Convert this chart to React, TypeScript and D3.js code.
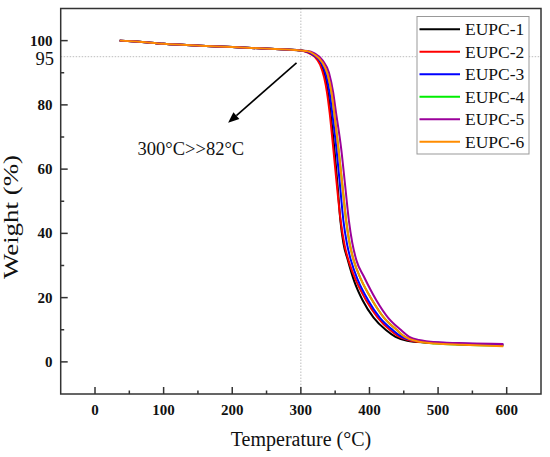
import * as d3 from 'd3';

// shared low-temperature part of every curve (°C, wt %)
const plateauT = [36, 60, 100, 153, 200, 262, 280, 300];
const plateauW = [100, 99.7, 99.0, 98.4, 98.0, 97.4, 97.2, 96.9];

const eupc1T = [310, 320, 329, 335, 340, 344, 349, 353.5, 357.6, 362, 368.6, 378, 390, 406, 424, 438, 455, 485, 525, 595];
const eupc1W = [96.5, 95.3, 93, 89, 83, 76, 66, 55, 44, 37, 31.6, 25, 19.2, 13.8, 9.9, 7.8, 6.6, 6.0, 5.6, 5.3];

const eupc2T = [310, 320, 328, 334, 338, 342, 347, 352, 358, 364, 370, 380, 395, 412, 430, 445, 460, 490, 530, 595];
const eupc2W = [96.3, 95.0, 92.5, 88.5, 84, 77.5, 67, 56, 44, 36, 31.2, 25.5, 19.2, 13.8, 9.9, 7.6, 6.6, 6.0, 5.6, 5.2];

const eupc3T = [310, 320, 330, 337, 342, 346, 352, 357, 362, 367, 373, 383, 398, 415, 434, 448, 463, 490, 530, 595];
const eupc3W = [96.5, 95.3, 93, 89, 83.5, 77, 66, 55, 44, 37, 31.6, 25.5, 19.2, 13.8, 9.9, 7.7, 6.7, 6.1, 5.7, 5.4];

const eupc4T = [310, 320, 331, 339, 345, 349, 355, 360.5, 366, 371, 377, 388, 404, 421, 440, 453, 468, 495, 535, 595];
const eupc4W = [96.7, 95.6, 93.3, 89.5, 83.5, 77, 66, 55, 44, 37, 31.6, 25.5, 19.2, 13.8, 9.9, 7.6, 6.5, 5.7, 5.3, 5.0];

const eupc5T = [310, 320, 332, 341, 347, 351, 359, 364.5, 370, 375, 381, 392, 410, 427, 446, 458, 472, 500, 540, 595];
const eupc5W = [96.8, 96.0, 93.8, 90, 84, 78, 66, 55, 44, 37, 31.6, 26.5, 19.2, 13.8, 9.9, 7.8, 6.8, 6.1, 5.8, 5.6];

const eupc6T = [310, 320, 331, 339, 345, 349, 355, 360.5, 366, 371, 377, 388, 404, 421, 440, 453, 468, 495, 535, 595];
const eupc6W = [96.7, 95.6, 93.3, 89.5, 83.5, 77, 66, 55, 44, 37, 31.6, 25.5, 19.2, 13.8, 9.9, 7.6, 6.5, 5.7, 5.3, 4.9];

const seriesNames = ['EUPC-1', 'EUPC-2', 'EUPC-3', 'EUPC-4', 'EUPC-5', 'EUPC-6'];
const seriesColors = ['#000000', '#ff0000', '#0000ff', '#00ee00', '#9b009b', '#ff8c00'];
const seriesT = [eupc1T, eupc2T, eupc3T, eupc4T, eupc5T, eupc6T];
const seriesW = [eupc1W, eupc2W, eupc3W, eupc4W, eupc5W, eupc6W];

const xTicks = [0, 100, 200, 300, 400, 500, 600];
const xMinor = [50, 150, 250, 350, 450, 550];
const yTicks = [0, 20, 40, 60, 80, 100];
const yMinor = [10, 30, 50, 70, 90];

const refT = 300;
const refW = 95;
const arrowFrom = [293.7, 93.1];
const arrowTo = [194, 74.4];
const noteText = '300°C>>82°C';
const notePos = [62, 64.4];

const serif = '"Liberation Serif", "Times New Roman", serif';

export default function App() {
  const width = 550;
  const height = 457;
  const left = 60.7;
  const right = 541;
  const top = 8.5;
  const bottom = 394;

  const x = d3.scaleLinear().domain([-50, 650]).range([left, right]);
  const y = d3.scaleLinear().domain([-10, 110]).range([bottom, top]);

  const line = d3
    .line<[number, number]>()
    .x((d) => x(d[0]))
    .y((d) => y(d[1]))
    .curve(d3.curveMonotoneX);

  const series = seriesNames.map((name, i) => ({
    name,
    color: seriesColors[i],
    points: [
      ...plateauT.map((t, j) => [t, plateauW[j]] as [number, number]),
      ...seriesT[i].map((t, j) => [t, seriesW[i][j]] as [number, number]),
    ],
  }));

  // draw order: green goes underneath so it hides behind orange
  const drawOrder = [3, 0, 1, 2, 4, 5];

  const ax1 = x(arrowFrom[0]);
  const ay1 = y(arrowFrom[1]);
  const ax2 = x(arrowTo[0]);
  const ay2 = y(arrowTo[1]);
  const ang = Math.atan2(ay2 - ay1, ax2 - ax1);
  const headLen = 11;
  const headW = 4.5;
  const bx = ax2 - headLen * Math.cos(ang);
  const by = ay2 - headLen * Math.sin(ang);
  const head = [
    [ax2, ay2],
    [bx + headW * Math.sin(ang), by - headW * Math.cos(ang)],
    [bx - headW * Math.sin(ang), by + headW * Math.cos(ang)],
  ];

  const legX = 417;
  const legY = 16.5;
  const legRow = 22.5;

  return (
    <svg
      width={width}
      height={height}
      style={{ position: 'absolute', left: 0, top: 0, background: '#fff' }}
      fontFamily={serif}
    >
      {/* reference lines */}
      <line x1={left} x2={right} y1={y(refW)} y2={y(refW)} stroke="#bdbdbd" strokeWidth={1} strokeDasharray="1.5,1.5" />
      <line x1={x(refT)} x2={x(refT)} y1={top} y2={bottom} stroke="#bdbdbd" strokeWidth={1} strokeDasharray="1.5,1.5" />

      {/* curves */}
      {drawOrder.map((i) => (
        <path key={series[i].name} d={line(series[i].points) ?? ''} fill="none" stroke={series[i].color} strokeWidth={2} />
      ))}

      {/* frame */}
      <rect x={left} y={top} width={right - left} height={bottom - top} fill="none" stroke="#333" strokeWidth={1.5} />

      {/* x ticks */}
      {xTicks.map((t) => (
        <g key={'x' + t}>
          <line x1={x(t)} x2={x(t)} y1={bottom} y2={bottom - 7} stroke="#333" strokeWidth={1.5} />
          <text x={x(t)} y={415} textAnchor="middle" fontSize={15} fontWeight="bold" fill="#111">
            {t}
          </text>
        </g>
      ))}
      {xMinor.map((t) => (
        <line key={'xm' + t} x1={x(t)} x2={x(t)} y1={bottom} y2={bottom - 3.5} stroke="#333" strokeWidth={1.5} />
      ))}

      {/* y ticks */}
      {yTicks.map((t) => (
        <g key={'y' + t}>
          <line x1={left} x2={left + 7} y1={y(t)} y2={y(t)} stroke="#333" strokeWidth={1.5} />
          <text x={52.5} y={y(t) + 5} textAnchor="end" fontSize={15} fontWeight="bold" fill="#111">
            {t}
          </text>
        </g>
      ))}
      {yMinor.map((t) => (
        <line key={'ym' + t} x1={left} x2={left + 3.5} y1={y(t)} y2={y(t)} stroke="#333" strokeWidth={1.5} />
      ))}
      <text x={54} y={y(refW) + 8.5} textAnchor="end" fontSize={18.5} fill="#111">
        {refW}
      </text>

      {/* axis titles */}
      <text x={301} y={445.5} textAnchor="middle" fontSize={20} fill="#111">
        Temperature (°C)
      </text>
      <text
        transform={`translate(18,217) rotate(-90)`}
        textAnchor="middle"
        fontSize={20}
        fill="#111"
        textLength={124}
        lengthAdjust="spacingAndGlyphs"
      >
        Weight (%)
      </text>

      {/* annotation arrow */}
      <line x1={ax1} y1={ay1} x2={bx} y2={by} stroke="#000" strokeWidth={1.6} />
      <polygon points={head.map((p) => p.join(',')).join(' ')} fill="#000" />
      <text x={x(notePos[0])} y={y(notePos[1])} fontSize={18.5} fill="#111">
        {noteText}
      </text>

      {/* legend */}
      <rect x={legX} y={legY} width={112} height={137.5} fill="#fff" stroke="#999" strokeWidth={1} />
      {series.map((s, i) => (
        <g key={'leg' + s.name} transform={`translate(${legX},${legY + 12.8 + i * legRow})`}>
          <line x1={2.5} x2={43} y1={0} y2={0} stroke={s.color} strokeWidth={2} />
          <text x={48} y={6} fontSize={17.5} fill="#111">
            {s.name}
          </text>
        </g>
      ))}
    </svg>
  );
}
